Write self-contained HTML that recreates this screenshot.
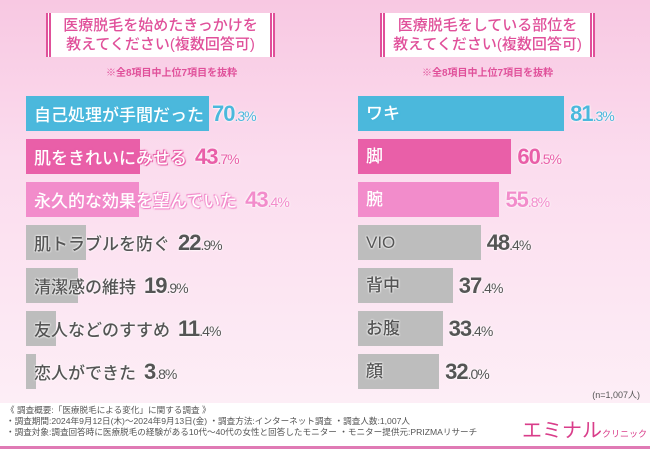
<!DOCTYPE html>
<html><head><meta charset="utf-8"><style>
*{margin:0;padding:0;box-sizing:border-box}
body{width:650px;height:450px;overflow:hidden;font-family:"Liberation Sans","Noto Sans CJK JP",sans-serif;position:relative;background:#fff}
#bg{position:absolute;left:0;top:0;width:650px;height:403px;background:linear-gradient(#f8c8e2 0%,#fbdcee 40%,#fdeef6 100%)}
.box{position:absolute;top:13px;height:44px;background:#fff;border-left:5px double #e0509a;border-right:5px double #e0509a;color:#e0509a;font-size:15px;font-weight:500;line-height:19px;padding:3px 0 0 0;text-align:center}
.note{position:absolute;top:64px;font-size:10px;color:#e0509a;font-weight:bold}
.bar{position:absolute;height:35px}
.lab{position:absolute;height:35px;line-height:35px;font-size:17px;font-weight:500;white-space:nowrap}
.val{font-size:22px;font-weight:bold;margin-left:8px;letter-spacing:-1px}
.val small{font-size:14px;font-weight:normal}
.foot{position:absolute;left:6px;top:405px;font-size:8.6px;color:#555;line-height:11px;white-space:nowrap}
</style></head><body>
<div id="bg"></div>
<div class="box" style="left:46px;width:229px">医療脱毛を始めたきっかけを<br>教えてください(複数回答可)</div>
<div class="note" style="left:106px">※全8項目中上位7項目を抜粋</div>
<div class="box" style="left:380px;width:215px">医療脱毛をしている部位を<br>教えてください(複数回答可)</div>
<div class="note" style="left:422px">※全8項目中上位7項目を抜粋</div>
<div id="charts"></div>
<div style="position:absolute;right:10px;top:388px;font-size:9px;color:#555">(n=1,007人)</div>
<div class="foot">《 調査概要:「医療脱毛による変化」に関する調査 》<br>・調査期間:2024年9月12日(木)～2024年9月13日(金) ・調査方法:インターネット調査 ・調査人数:1,007人<br>・調査対象:調査回答時に医療脱毛の経験がある10代～40代の女性と回答したモニター ・モニター提供元:PRIZMAリサーチ</div>
<div style="position:absolute;left:522px;top:414px;color:#d93d8a;font-size:20px;white-space:nowrap">エミナル<span style="font-size:9px">クリニック</span></div>
<div style="position:absolute;left:0;top:446px;width:650px;height:3px;background:#e07ab5"></div>
<script>
const leftCats=["自己処理が手間だった","肌をきれいにみせる","永久的な効果を望んでいた","肌トラブルを防ぐ","清潔感の維持","友人などのすすめ","恋人ができた"];
const leftVals=[70.3,43.7,43.4,22.9,19.9,11.4,3.8];
const rightCats=["ワキ","脚","腕","VIO","背中","お腹","顔"];
const rightVals=[81.3,60.5,55.8,48.4,37.4,33.4,32.0];
const colors=["#4bb8dc","#e95fa8","#f28ccb","#bdbdbd","#bdbdbd","#bdbdbd","#bdbdbd"];
const txtColors=["#4bb8dc","#e95fa8","#f28ccb","#555","#555","#555","#555"];
const root=document.getElementById('charts');
function yPos(i){return 96+i*43;}
function draw(cats,vals,x0,scale,side){
 cats.forEach((c,i)=>{
  const b=document.createElement('div');b.className='bar';
  
  
  b.style.left=x0+'px';b.style.top=yPos(i)+'px';b.style.width=(vals[i]*scale)+'px';b.style.background=colors[i];
  root.appendChild(b);
  const l=document.createElement('div');l.className='lab';
  
  
  const s=vals[i].toFixed(1).split('.');
  const stroke=i<3?'text-shadow:0 0 2px '+colors[i]+',0 0 2px '+colors[i]+',1px 1px 0 '+colors[i]+',-1px -1px 0 '+colors[i]+';color:#fff':'color:#555;text-shadow:0 0 2px #fff,0 0 2px #fff';
  const valHtml='<span class="val" style="color:'+txtColors[i]+';text-shadow:0 0 2px #fff,0 0 2px #fff">'+s[0]+'<small>.'+s[1]+'%</small></span>';
  l.style.top=yPos(i)+'px';
  if(side==='left'){
   l.style.left=(x0+8)+'px';
   l.innerHTML='<span style="'+stroke+'">'+c+'</span>'+valHtml;
   root.appendChild(l);
  }else{
   l.style.left=(x0+8)+'px';
   l.innerHTML='<span style="'+stroke+'">'+c+'</span>';
   root.appendChild(l);
   const v=document.createElement('div');v.className='lab';
   
   
   v.style.top=yPos(i)+'px';v.style.left=(x0+vals[i]*scale-2)+'px';
   v.innerHTML=valHtml;root.appendChild(v);
  }
 });
}
draw(leftCats,leftVals,26,2.6,'left');
draw(rightCats,rightVals,358,2.535,'right');
</script>
</body></html>
